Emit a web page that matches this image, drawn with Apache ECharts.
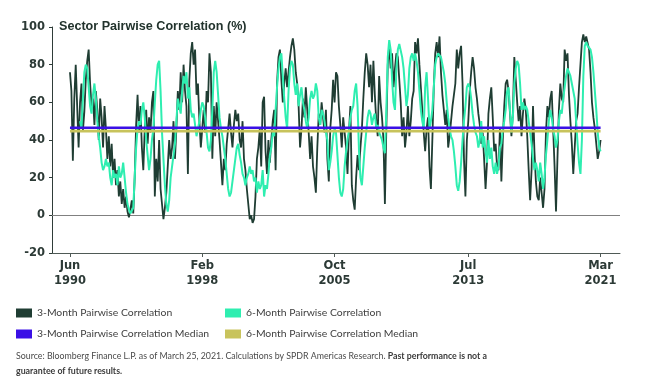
<!DOCTYPE html>
<html><head><meta charset="utf-8">
<script src="https://cdn.jsdelivr.net/npm/echarts@6/dist/echarts.min.js"></script>
<style>html,body{margin:0;padding:0;background:#fff}#c{width:661px;height:392px}</style>
</head><body><div id="c"></div>
<script>
// Monthly observations, index 0 = Jun 1990, index 369 = Mar 2021
const tickIndex = [0, 92, 184, 277, 369];
const tickLabels = ['Jun\n1990', 'Feb\n1998', 'Oct\n2005', 'Jul\n2013', 'Mar\n2021'];

const corr3m = [
76,66,29,62,80,58,36,60,70,45,
55,72,82,88,70,58,62,48,66,56,
40,62,52,36,58,46,30,42,26,38,
20,30,16,24,10,18,6,14,4,10,
2,-1,3,8,1,20,48,64,44,58,
36,24,46,56,38,52,44,60,66,10,
30,18,40,14,6,-2,4,12,26,40,
30,36,50,30,46,66,56,76,60,80,
66,58,22,72,86,92,80,88,64,70,
50,36,46,56,44,66,60,86,76,30,
58,42,60,50,40,28,16,30,24,38,
46,54,44,36,48,56,50,54,40,36,
50,30,24,14,6,-2,0,-4,-2,10,
30,36,46,26,60,63,34,22,40,28,
40,50,56,24,70,84,88,72,60,70,
78,68,76,84,90,94,88,76,70,58,
36,46,62,52,68,56,44,30,42,26,
20,12,36,54,48,60,52,44,56,30,
18,46,56,72,60,76,74,58,48,36,
52,44,36,22,44,58,16,8,3,20,
32,24,36,46,62,76,86,80,68,80,
60,82,64,50,42,74,60,52,40,6,
46,80,90,78,86,68,78,86,84,72,
60,42,52,36,44,58,42,50,62,66,
92,86,94,80,68,56,44,34,46,52,
26,14,40,68,86,92,84,95,76,64,
56,48,56,36,42,50,58,64,70,88,
78,86,90,70,30,10,40,50,66,76,
84,78,68,62,54,48,38,44,30,14,
28,54,62,68,52,34,38,26,24,46,
18,40,58,70,72,66,54,42,54,84,
72,60,50,58,42,54,62,56,42,24,
8,24,58,34,18,10,8,20,12,4,
14,44,58,52,62,66,46,26,2,30,
56,70,62,60,88,82,86,64,50,38,
22,36,50,54,68,80,92,96,92,95,
94,88,76,60,52,46,38,30,34,40
];

const corr6m = [
null,null,null,null,null,null,null,50,46,62,
76,80,78,68,58,54,64,70,62,50,
42,36,28,24,26,30,26,28,20,16,
24,20,22,16,26,20,22,28,20,12,
6,3,1,0,4,20,36,46,50,48,
56,60,52,40,32,24,30,40,46,60,
72,80,82,66,44,30,16,6,2,8,
20,26,32,38,50,62,58,54,66,74,
70,76,62,68,56,52,54,48,42,46,
50,56,60,58,52,44,36,34,40,56,
76,82,76,64,52,46,42,36,30,22,
14,10,12,18,24,30,36,38,32,28,
22,20,16,20,22,26,22,24,18,20,
12,18,14,16,24,10,16,14,22,32,
36,44,42,56,68,78,84,86,74,62,
52,46,66,78,82,80,70,64,70,58,
64,68,60,56,50,46,52,62,66,62,
64,70,66,52,48,56,54,50,44,40,
24,28,34,42,46,44,32,20,12,10,
14,26,34,40,45,52,56,58,66,70,
58,34,20,16,26,36,44,52,56,54,
48,52,54,46,48,44,42,40,36,33,
56,84,93,88,72,60,56,78,88,91,
90,84,78,68,58,64,78,84,86,82,
86,82,76,66,56,50,46,68,76,62,
46,50,56,68,80,84,86,86,84,80,
76,70,60,52,46,42,40,34,26,16,
13,18,28,40,50,58,68,70,68,62,
54,48,44,42,36,40,50,36,42,34,
28,40,30,36,26,22,28,22,26,36,
38,46,50,56,66,68,56,44,52,70,
78,82,80,70,56,60,56,58,56,50,
44,38,30,24,28,24,18,28,22,14,
20,32,40,50,56,52,46,42,36,40,
50,56,54,62,68,74,78,76,74,70,
66,62,50,38,28,22,40,74,90,92,
90,91,88,84,76,66,56,44,36,34
];

const median3m = [46.5, 46.5];
const median6m = [44.7, 44.7];
const medianSpan = [0, 369];

const seriesNames = [
  '3-Month Pairwise Correlation',
  '6-Month Pairwise Correlation',
  '3-Month Pairwise Correlation Median',
  '6-Month Pairwise Correlation Median'
];
const colors = ['#1f3d33', '#2eeeb0', '#3a10e6', '#c8c35c'];

const chart = echarts.init(document.getElementById('c'), null, {renderer: 'canvas'});
const axisFont = 'DejaVu Sans';
const legendFont = 'Lato, "Liberation Sans", Arial, sans-serif';

function legendAt(name, left, top) {
  return {
    data: [name], left: left, top: top, icon: 'rect',
    itemWidth: 16, itemHeight: 9, itemGap: 5, padding: 0,
    selectedMode: false,
    textStyle: {fontFamily: legendFont, fontSize: 10.4, color: '#404040', padding: [0,0,0,0]}
  };
}

const option = {
  animation: false,
  backgroundColor: '#ffffff',
  color: colors,
  title: {
    text: 'Sector Pairwise Correlation (%)',
    left: 59, top: 20, padding: 0,
    textStyle: {fontFamily: 'Liberation Sans, Arial, sans-serif', fontSize: 12.6, fontWeight: 'bold', color: '#22332d'}
  },
  grid: {left: 52, right: 41, top: 27, bottom: 139, containLabel: false},
  xAxis: {
    type: 'value', min: -12.5, max: 382.5,
    axisLine: {show: true, onZero: false, lineStyle: {color: '#4f5a56', width: 1}},
    axisTick: {show: true, customValues: tickIndex, length: 4, inside: false, lineStyle: {color: '#4f5a56'}},
    axisLabel: {
      customValues: tickIndex,
      formatter: function (v) { const k = tickIndex.indexOf(Math.round(v)); return k >= 0 ? tickLabels[k] : ''; },
      fontFamily: axisFont, fontWeight: 'bold', fontSize: 11.5, color: '#2c3a36', lineHeight: 15, margin: 6
    },
    splitLine: {show: false}
  },
  yAxis: {
    type: 'value', min: -20, max: 100, interval: 20,
    axisLine: {show: true, onZero: false, lineStyle: {color: '#2f3d39', width: 1}},
    axisTick: {show: true, length: 3, lineStyle: {color: '#2f3d39'}},
    axisLabel: {fontFamily: axisFont, fontWeight: 'bold', fontSize: 11.5, color: '#2c3a36', margin: 7},
    splitLine: {show: false}
  },
  legend: [
    legendAt(seriesNames[0], 16, 308),
    legendAt(seriesNames[1], 225, 308),
    legendAt(seriesNames[2], 16, 329),
    legendAt(seriesNames[3], 225, 329)
  ],
  graphic: [{
    type: 'text', left: 16, top: 349,
    style: {
      text: 'Source: Bloomberg Finance L.P. as of March 25, 2021. Calculations by SPDR Americas Research. {b|Past performance is not a}\n{b|guarantee of future results.}',
      fontFamily: legendFont, fontSize: 8.8, fill: '#4a4a4a', lineHeight: 15,
      rich: {b: {fontFamily: legendFont, fontSize: 8.8, fontWeight: 'bold', fill: '#3a3a3a', lineHeight: 15}}
    }
  }],
  series: [
    {
      name: seriesNames[0], type: 'line', showSymbol: false, symbol: 'none',
      data: corr3m.map((v, i) => [i, v]),
      lineStyle: {color: colors[0], width: 1.8}, itemStyle: {color: colors[0]},
      z: 2,
      markLine: {
        silent: true, symbol: ['none', 'none'], label: {show: false},
        lineStyle: {color: '#808080', width: 1, type: 'solid'},
        data: [{yAxis: 0}], z: 1
      }
    },
    {
      name: seriesNames[1], type: 'line', showSymbol: false, symbol: 'none', connectNulls: false,
      data: corr6m.map((v, i) => [i, v]),
      lineStyle: {color: colors[1], width: 2}, itemStyle: {color: colors[1]}, z: 3
    },
    {
      name: seriesNames[3], type: 'line', showSymbol: false, symbol: 'none',
      data: medianSpan.map((x, k) => [x, median6m[k]]),
      lineStyle: {color: colors[3], width: 2.6}, itemStyle: {color: colors[3]}, z: 4
    },
    {
      name: seriesNames[2], type: 'line', showSymbol: false, symbol: 'none',
      data: medianSpan.map((x, k) => [x, median3m[k]]),
      lineStyle: {color: colors[2], width: 2.6}, itemStyle: {color: colors[2]}, z: 5
    }
  ]
};
chart.setOption(option);
</script>
</body></html>
